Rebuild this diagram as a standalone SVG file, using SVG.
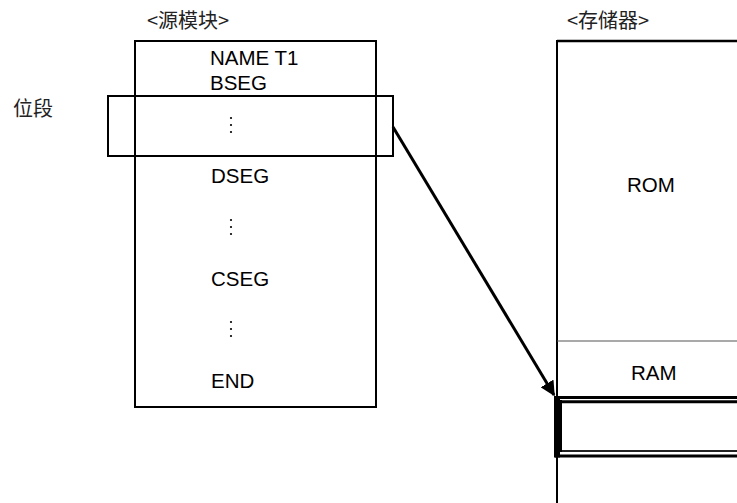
<svg xmlns="http://www.w3.org/2000/svg" width="737" height="503" viewBox="0 0 737 503">
  <style>
    .lbl { font-family: "Liberation Sans", Arial, "Noto Sans CJK SC", sans-serif; font-size: 20.5px; fill: #000; }
    .cjk { font-family: "Noto Sans CJK SC", sans-serif; font-size: 20px; fill: #222; }
    .box { fill: none; stroke: #000; stroke-width: 2; }
    .dot { fill: #000; }
  </style>
  <defs>
    <marker id="arrowhead" viewBox="0 0 10 10" refX="9" refY="5" markerWidth="5" markerHeight="5" orient="auto" markerUnits="strokeWidth">
      <path d="M0,0 L10,5 L0,10 z" fill="#000"/>
    </marker>
    <g id="vdots">
      <circle cx="0" cy="0" r="1.1" class="dot"/>
      <circle cx="0" cy="7" r="1.1" class="dot"/>
      <circle cx="0" cy="14" r="1.1" class="dot"/>
    </g>
  </defs>
  <rect width="737" height="503" fill="#fff"/>

  <!-- source module -->
  <g id="source-module">
    <text x="147" y="28" class="cjk">&lt;源模块&gt;</text>
    <rect x="135" y="41" width="241" height="366" class="box"/>
    <text x="210" y="65" class="lbl">NAME T1</text>
    <text x="210" y="90" class="lbl">BSEG</text>
    <text x="211" y="183" class="lbl">DSEG</text>
    <use href="#vdots" x="231" y="220"/>
    <text x="211" y="286" class="lbl">CSEG</text>
    <use href="#vdots" x="231" y="322"/>
    <text x="211" y="388" class="lbl">END</text>
  </g>

  <!-- bit segment highlight -->
  <g id="bit-segment">
    <text x="13" y="116" class="cjk">位段</text>
    <rect x="108" y="96" width="285" height="60" class="box"/>
    <use href="#vdots" x="231" y="118"/>
  </g>

  <!-- memory map -->
  <g id="memory">
    <text x="567" y="28" class="cjk">&lt;存储器&gt;</text>
    <line x1="557" y1="41" x2="740" y2="41" stroke="#000" stroke-width="2.5"/>
    <line x1="557" y1="40" x2="557" y2="503" stroke="#000" stroke-width="2"/>
    <text x="627" y="192" class="lbl">ROM</text>
    <line x1="557" y1="341" x2="740" y2="341" stroke="#555" stroke-width="1.2"/>
    <text x="631" y="380" class="lbl">RAM</text>
  </g>

  <!-- bit segment placed in memory -->
  <g id="bit-area">
    <line x1="555" y1="397.5" x2="740" y2="397.5" stroke="#000" stroke-width="3"/>
    <line x1="560" y1="401.8" x2="740" y2="401.8" stroke="#000" stroke-width="3"/>
    <line x1="560" y1="451" x2="740" y2="451" stroke="#222" stroke-width="2"/>
    <line x1="555" y1="456" x2="740" y2="456" stroke="#000" stroke-width="3"/>
    <rect x="554" y="396" width="6" height="61.5" fill="#000"/>
    <line x1="561" y1="400" x2="561" y2="452" stroke="#000" stroke-width="2"/>
  </g>

  <!-- connectors -->
  <g id="connectors">
    <line x1="393" y1="127" x2="554" y2="395" stroke="#000" stroke-width="3" marker-end="url(#arrowhead)"/>
  </g>
</svg>
